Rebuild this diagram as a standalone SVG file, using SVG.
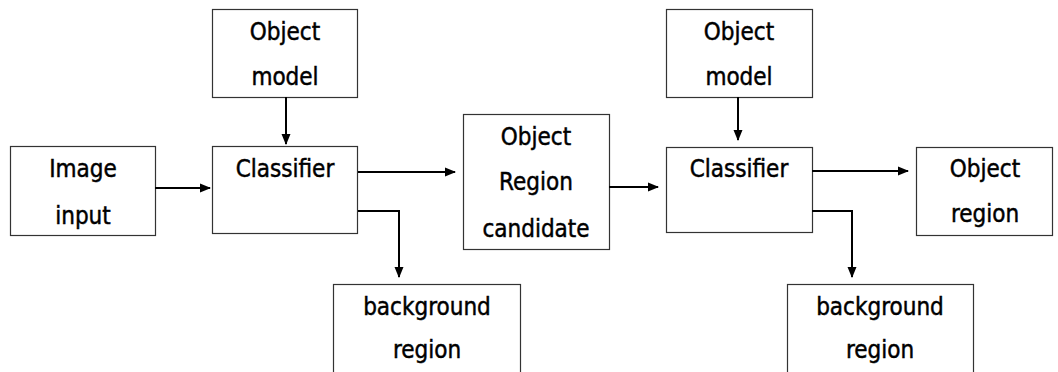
<svg xmlns="http://www.w3.org/2000/svg" width="1058" height="372" viewBox="0 0 1058 372">
  <style>
    .box { fill: #ffffff; stroke: #333333; stroke-width: 1.2; }
    .lbl { font-family: "DejaVu Sans Condensed", "DejaVu Sans", sans-serif; font-size: 24px; fill: #000000; stroke: #000000; stroke-width: 0.45; text-anchor: middle; }
    .wire { fill: none; stroke: #000000; stroke-width: 2; }
  </style>
  <defs>
    <marker id="arrow" markerWidth="11" markerHeight="10" refX="10" refY="5" orient="auto" markerUnits="userSpaceOnUse">
      <path d="M0,0.5 L11,5 L0,9.5 Z" fill="#000000"/>
    </marker>
  </defs>

  <rect width="1058" height="372" fill="#ffffff"/>

  <g id="image-input">
    <rect class="box" x="10.5" y="146.5" width="145" height="89"/>
    <text class="lbl" x="83" y="177">Image</text>
    <text class="lbl" x="83" y="224">input</text>
  </g>

  <g id="object-model-1">
    <rect class="box" x="212.5" y="9.5" width="145" height="88"/>
    <text class="lbl" x="285" y="40">Object</text>
    <text class="lbl" x="285" y="85">model</text>
  </g>

  <g id="classifier-1">
    <rect class="box" x="212.5" y="146.5" width="145" height="87"/>
    <text class="lbl" x="285" y="177">Classifier</text>
  </g>

  <g id="background-region-1">
    <rect class="box" x="333.5" y="284.5" width="187" height="95"/>
    <text class="lbl" x="427" y="315">background</text>
    <text class="lbl" x="427" y="358">region</text>
  </g>

  <g id="object-region-candidate">
    <rect class="box" x="463.5" y="114.5" width="146" height="135"/>
    <text class="lbl" x="536" y="145">Object</text>
    <text class="lbl" x="536" y="190">Region</text>
    <text class="lbl" x="536" y="237">candidate</text>
  </g>

  <g id="object-model-2">
    <rect class="box" x="666.5" y="9.5" width="146" height="88"/>
    <text class="lbl" x="739" y="40">Object</text>
    <text class="lbl" x="739" y="85">model</text>
  </g>

  <g id="classifier-2">
    <rect class="box" x="666.5" y="147.5" width="146" height="85"/>
    <text class="lbl" x="739" y="177">Classifier</text>
  </g>

  <g id="object-region">
    <rect class="box" x="916.5" y="147.5" width="136" height="88"/>
    <text class="lbl" x="985" y="177">Object</text>
    <text class="lbl" x="985" y="222">region</text>
  </g>

  <g id="background-region-2">
    <rect class="box" x="787.5" y="284.5" width="186" height="95"/>
    <text class="lbl" x="880" y="315">background</text>
    <text class="lbl" x="880" y="358">region</text>
  </g>

  <g id="connectors">
    <path class="wire" d="M155,188 L210,188" marker-end="url(#arrow)"/>
    <path class="wire" d="M286,97 L286,144" marker-end="url(#arrow)"/>
    <path class="wire" d="M358,172 L455,172" marker-end="url(#arrow)"/>
    <path class="wire" d="M358,211 L399,211 L399,277" marker-end="url(#arrow)"/>
    <path class="wire" d="M609,187 L658,187" marker-end="url(#arrow)"/>
    <path class="wire" d="M738,97 L738,140" marker-end="url(#arrow)"/>
    <path class="wire" d="M812,171 L908,171" marker-end="url(#arrow)"/>
    <path class="wire" d="M812,211 L852,211 L852,277" marker-end="url(#arrow)"/>
  </g>
</svg>
